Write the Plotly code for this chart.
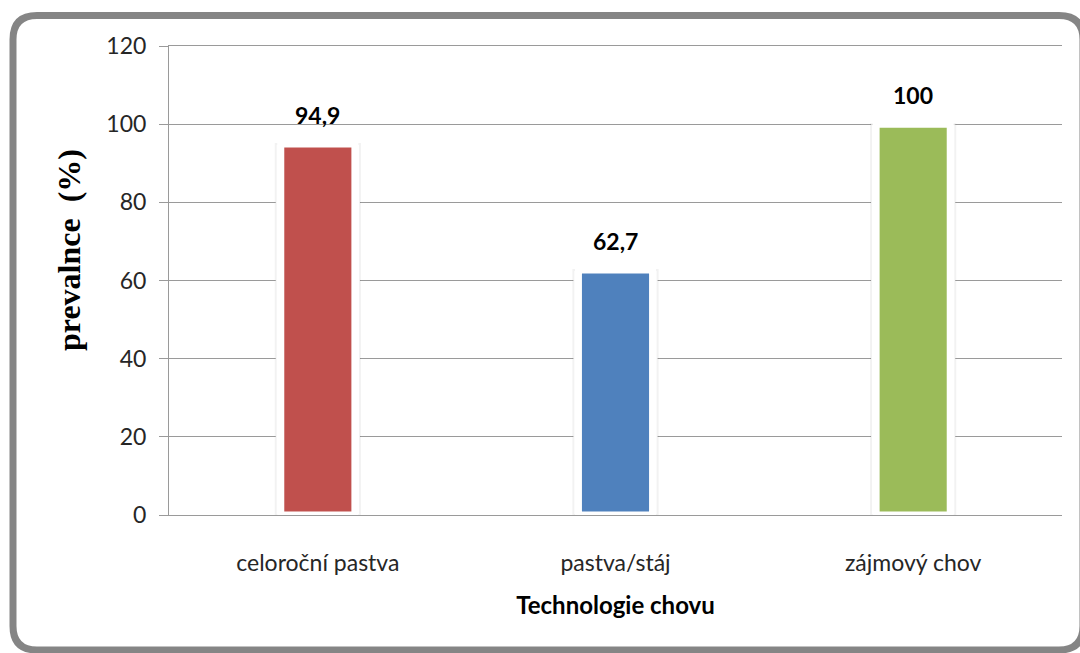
import plotly.graph_objects as go

# Prevalence by type of husbandry
categories = ["celoroční pastva", "pastva/stáj", "zájmový chov"]
prevalence = [94.9, 62.7, 100]
bar_colors = ["#C0504D", "#4F81BD", "#9BBB59"]
y_ticks = [0, 20, 40, 60, 80, 100, 120]

W, H = 1080, 653
L, R, T, B = 169, 18, 46, 138
PW, PH = W - L - R, H - T - B


def px(x):
    return (x - L) / PW


def py(y):
    return (H - B - y) / PH


fig = go.Figure()

# soft halo behind each bar
fig.add_trace(go.Bar(
    x=categories, y=prevalence, width=0.283,
    marker=dict(color="white", line=dict(color="rgba(0,0,0,0.05)", width=2)),
    hoverinfo="skip", showlegend=False,
))
# coloured bars with a white rim
fig.add_trace(go.Bar(
    x=categories, y=prevalence, width=0.249,
    marker=dict(color=bar_colors, line=dict(color="white", width=7)),
    showlegend=False,
))

for c, v in zip(categories, prevalence):
    fig.add_annotation(
        x=c, y=v, text=f"<b>{v:g}</b>".replace(".", ","), showarrow=False,
        yshift=29, font=dict(family="Lato", size=23, color="#000000"),
    )

# vertical axis title
fig.add_annotation(
    xref="paper", yref="paper", x=px(69), y=py(250), textangle=-90,
    xanchor="center", yanchor="middle",
    text="<b>prevalnce\u00a0\u00a0(%)</b>", showarrow=False,
    font=dict(family="Liberation Serif", size=32, color="#000000"),
)

# rounded frame around the chart
x0, x1 = px(13), px(1083)
y0, y1 = py(15.5), py(650)
r = 24
rx, ry = r / PW, r / PH
path = (
    f"M {x0},{y1 + ry} L {x0},{y0 - ry} Q {x0},{y0} {x0 + rx},{y0} "
    f"L {x1 - rx},{y0} Q {x1},{y0} {x1},{y0 - ry} "
    f"L {x1},{y1 + ry} Q {x1},{y1} {x1 - rx},{y1} "
    f"L {x0 + rx},{y1} Q {x0},{y1} {x0},{y1 + ry} Z"
)
fig.add_shape(type="path", xref="paper", yref="paper", path=path,
              line=dict(color="#858585", width=7), fillcolor="rgba(0,0,0,0)")

fig.update_layout(
    width=W, height=H, margin=dict(l=L, r=R, t=T, b=B),
    paper_bgcolor="white", plot_bgcolor="white", barmode="overlay",
    font=dict(family="Lato", color="#000000"),
)
fig.update_xaxes(
    showgrid=False, showline=True, mirror=True, linecolor="#9a9a9a",
    linewidth=1, ticks="",
    tickfont=dict(family="Lato", size=23, color="#262626"),
    ticklabelstandoff=27,
    title=dict(text="<b>Technologie chovu</b>", standoff=22,
               font=dict(family="Lato", size=24, color="#000000")),
)
fig.update_yaxes(
    range=[0, 120], tickvals=y_ticks, showgrid=True, gridcolor="#9a9a9a",
    gridwidth=1, showline=True, linecolor="#9a9a9a", linewidth=1,
    ticks="outside", ticklen=9, tickcolor="#9a9a9a",
    tickfont=dict(family="Lato", size=23, color="#262626"),
    ticklabelstandoff=8, zeroline=False,
)

fig.write_html("out.html")
